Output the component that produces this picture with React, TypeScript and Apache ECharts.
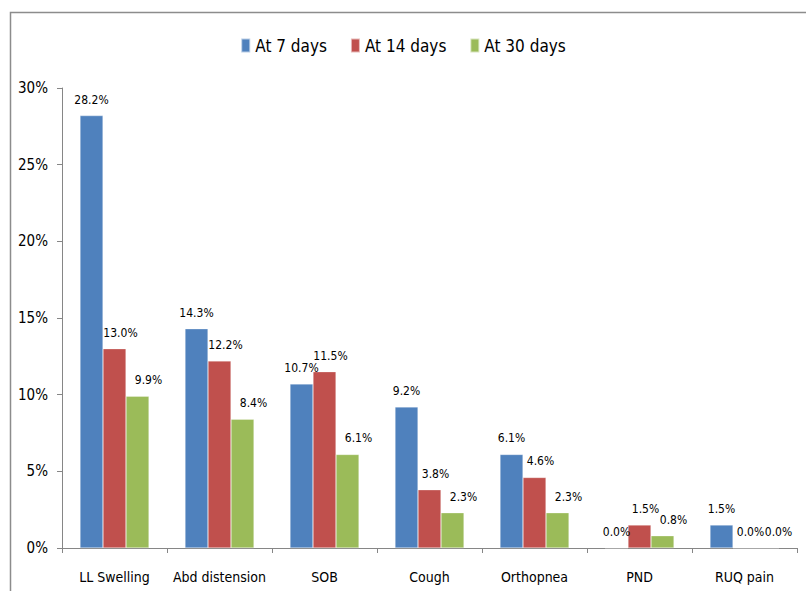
import React, { useEffect, useRef } from "react";
import * as echarts from "echarts";

const categories = ["LL Swelling", "Abd distension", "SOB", "Cough", "Orthopnea", "PND", "RUQ pain"];
const day7 = [28.2, 14.3, 10.7, 9.2, 6.1, 0.0, 1.5];
const day14 = [13.0, 12.2, 11.5, 3.8, 4.6, 1.5, 0.0];
const day30 = [9.9, 8.4, 6.1, 2.3, 2.3, 0.8, 0.0];
const seriesNames = ["At 7 days", "At 14 days", "At 30 days"];
const yTicks = [0, 5, 10, 15, 20, 25, 30];

const FONT = "'DejaVu Sans Condensed', 'Liberation Sans', Arial, sans-serif";
const colors = ["#4F81BD", "#C0504D", "#9BBB59"];
const labelShift = [0, 6, 11];

export default function App() {
  const ref = useRef<HTMLDivElement>(null);
  useEffect(() => {
    if (!ref.current) return;
    const chart = echarts.init(ref.current, undefined, { renderer: "svg" });
    const mk = (name: string, data: number[], i: number) => ({
      name,
      type: "bar",
      data,
      barWidth: 23,
      barGap: "0%",
      itemStyle: { color: colors[i], borderColor: "rgba(255,255,255,0.6)", borderWidth: 0.5 },
      label: {
        show: true,
        position: "top",
        distance: 10,
        offset: [labelShift[i], 0],
        formatter: (p: any) => p.value.toFixed(1) + "%",
        fontFamily: FONT,
        fontSize: 12,
        color: "#000",
      },
    });
    chart.setOption({
      animation: false,
      backgroundColor: "#fff",
      textStyle: { fontFamily: FONT },
      legend: {
        data: seriesNames,
        top: 32,
        left: "center",
        itemWidth: 9,
        itemHeight: 14,
        itemGap: 23,
        icon: "rect",
        textStyle: { fontFamily: FONT, fontSize: 17, color: "#000" },
      },
      grid: { left: 62, right: 9, top: 88, bottom: 43, containLabel: false },
      xAxis: {
        type: "category",
        data: categories,
        axisLine: { lineStyle: { color: "#868686", width: 1 } },
        axisTick: { show: true, length: 5, lineStyle: { color: "#868686" } },
        axisLabel: { interval: 0, fontFamily: FONT, fontSize: 14, color: "#000", margin: 22 },
      },
      yAxis: {
        type: "value",
        min: yTicks[0],
        max: yTicks[yTicks.length - 1],
        interval: 5,
        axisLine: { show: true, lineStyle: { color: "#868686", width: 1 } },
        axisTick: { show: true, length: 5, lineStyle: { color: "#868686" } },
        splitLine: { show: false },
        axisLabel: {
          fontFamily: FONT,
          fontSize: 15,
          color: "#000",
          margin: 14,
          formatter: (v: number) => v + "%",
        },
      },
      graphic: [
        {
          type: "rect",
          shape: { x: 10.5, y: 12.5, width: 820, height: 620 },
          style: { fill: "none", stroke: "#8C8C8C", lineWidth: 1.5 },
          z: -1,
        },
      ],
      series: [mk(seriesNames[0], day7, 0), mk(seriesNames[1], day14, 1), mk(seriesNames[2], day30, 2)],
    });
    return () => chart.dispose();
  }, []);
  return (
    <div
      ref={ref}
      style={{ position: "fixed", left: 0, top: 0, width: 806, height: 591 }}
    />
  );
}
